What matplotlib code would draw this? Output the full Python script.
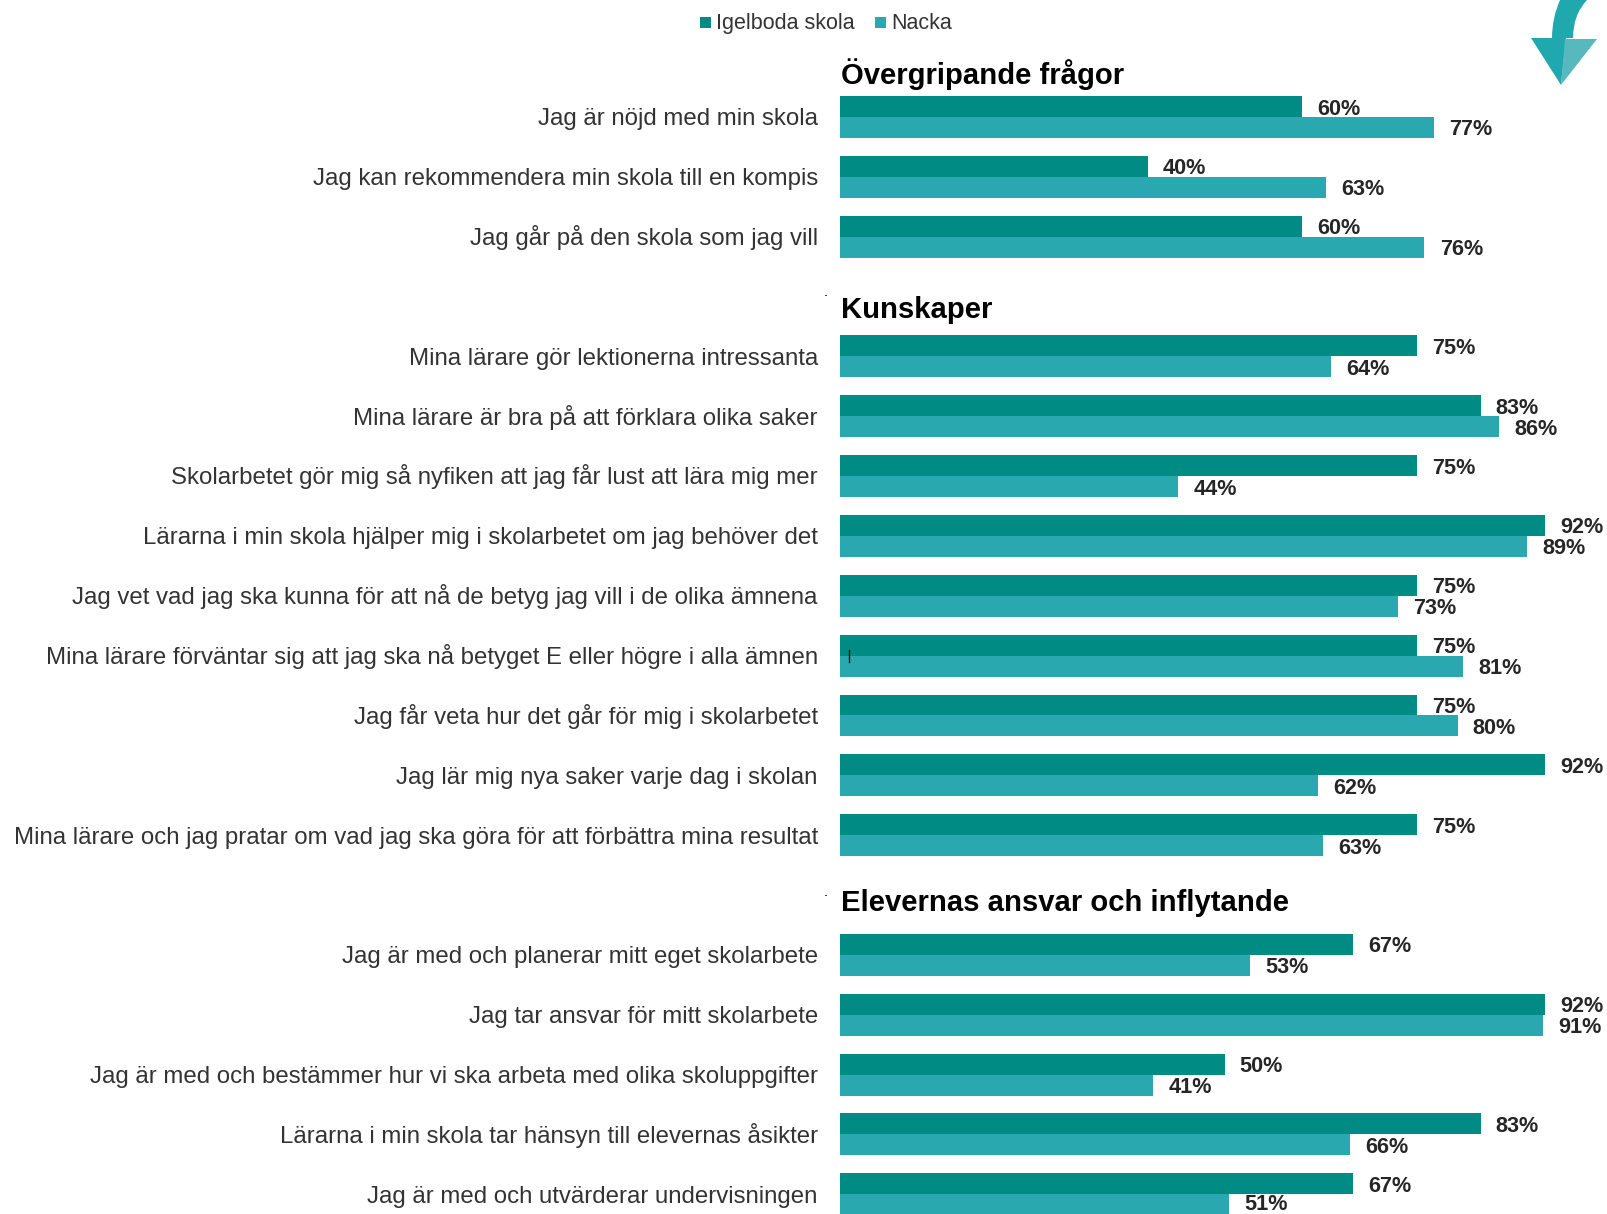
import matplotlib
matplotlib.use('Agg')
import matplotlib.pyplot as plt
from matplotlib.patches import Polygon, PathPatch, Rectangle
from matplotlib.path import Path

plt.rcParams['font.family'] = ['Liberation Sans', 'DejaVu Sans']

W, H = 1607, 1214

questions = [
    'Jag är nöjd med min skola',
    'Jag kan rekommendera min skola till en kompis',
    'Jag går på den skola som jag vill',
    'Mina lärare gör lektionerna intressanta',
    'Mina lärare är bra på att förklara olika saker',
    'Skolarbetet gör mig så nyfiken att jag får lust att lära mig mer',
    'Lärarna i min skola hjälper mig i skolarbetet om jag behöver det',
    'Jag vet vad jag ska kunna för att nå de betyg jag vill i de olika ämnena',
    'Mina lärare förväntar sig att jag ska nå betyget E eller högre i alla ämnen',
    'Jag får veta hur det går för mig i skolarbetet',
    'Jag lär mig nya saker varje dag i skolan',
    'Mina lärare och jag pratar om vad jag ska göra för att förbättra mina resultat',
    'Jag är med och planerar mitt eget skolarbete',
    'Jag tar ansvar för mitt skolarbete',
    'Jag är med och bestämmer hur vi ska arbeta med olika skoluppgifter',
    'Lärarna i min skola tar hänsyn till elevernas åsikter',
    'Jag är med och utvärderar undervisningen',
]
row_pos = [0, 1, 2, 4, 5, 6, 7, 8, 9, 10, 11, 12, 14, 15, 16, 17, 18]
igelboda = [60.1, 40, 60.1, 75, 83.3, 75, 91.7, 75, 75, 75, 91.7, 75, 66.7, 91.7, 50, 83.3, 66.7]
nacka = [77.2, 63.2, 76, 63.9, 85.7, 44, 89.4, 72.6, 81, 80.3, 62.1, 62.8, 53.3, 91.4, 40.7, 66.3, 50.6]
headings = ['Övergripande frågor', 'Kunskaper', 'Elevernas ansvar och inflytande']
heading_pos = [-0.77, 3.17, 13.08]
series_names = ['Igelboda skola', 'Nacka']

DARK = '#008C85'
LIGHT = '#2AA8B0'
TEXT = '#333333'

fig = plt.figure(figsize=(W / 100, H / 100), dpi=100)
ax = fig.add_axes([840 / W, 0, 1 - 840 / W, 1])
ax.set_xlim(0, (W - 840) / 7.69)
ax.set_ylim(18.33, -1.955)

bar_h = 0.35
ax.barh([p - bar_h / 2 for p in row_pos], igelboda, height=bar_h, color=DARK)
ax.barh([p + bar_h / 2 for p in row_pos], nacka, height=bar_h, color=LIGHT)

for p, a, b in zip(row_pos, igelboda, nacka):
    ax.annotate('%.0f%%' % a, (a, p - bar_h / 2), xytext=(11, 0), textcoords='offset points',
                va='center_baseline', fontsize=15.6, fontweight='bold', color='#262626')
    # last label sits right on the bottom edge, lift it a little so it isn't clipped
    dy = 2 if p == row_pos[-1] else 0
    ax.annotate('%.0f%%' % b, (b, p + bar_h / 2), xytext=(11, dy), textcoords='offset points',
                va='center_baseline', fontsize=15.6, fontweight='bold', color='#262626')

# question labels on a common baseline, tick labels wobble with the descenders
ax.set_yticks(row_pos)
ax.set_yticklabels([])
ax.tick_params(axis='y', length=0)
for q, p in zip(questions, row_pos):
    ax.annotate(q, (0, p), xytext=(-16, -6), textcoords='offset points', ha='right', va='baseline',
                fontsize=17.3, color=TEXT, annotation_clip=False)
ax.set_xticks([])
for s in ax.spines.values():
    s.set_visible(False)
ax.patch.set_alpha(0)

for name, p in zip(headings, heading_pos):
    ax.text(0.1, p, name, fontsize=21.1, fontweight='bold', color='black', va='center_baseline')


# pixel coords -> figure coords, for legend and decorations
def px(x, y):
    return (x / W, 1 - y / H)


for name, col, x_box in zip(series_names, [DARK, LIGHT], [700, 875]):
    fig.add_artist(Rectangle(px(x_box, 28), 11 / W, 11 / H, transform=fig.transFigure,
                             facecolor=col, edgecolor='none'))
    fig.text(*px(x_box + 16, 29), name, fontsize=15.5, color=TEXT, va='baseline')

arrow_dark = Path([px(1560, 0), px(1552, 18), px(1552, 38), px(1531, 38), px(1561, 85), px(1566, 38),
                   px(1573, 38), px(1573, 15), px(1587, 0), px(1560, 0)],
                  [Path.MOVETO, Path.CURVE3, Path.CURVE3, Path.LINETO, Path.LINETO, Path.LINETO,
                   Path.LINETO, Path.CURVE3, Path.CURVE3, Path.CLOSEPOLY])
fig.add_artist(PathPatch(arrow_dark, transform=fig.transFigure, facecolor='#1FA8AE', edgecolor='none'))
fig.add_artist(Polygon([px(1561, 85), px(1565, 39), px(1597, 39)], transform=fig.transFigure,
                       facecolor='#57B8BD', edgecolor='none'))

# stray marks in the original
fig.add_artist(plt.Line2D([849 / W, 849 / W], [1 - 650 / H, 1 - 662 / H], color='black', lw=0.9))
for y in (295, 895):
    fig.add_artist(plt.Line2D([825 / W, 826 / W], [1 - y / H, 1 - y / H], color='black', lw=0.6))

fig.savefig('out.png', dpi=100)
